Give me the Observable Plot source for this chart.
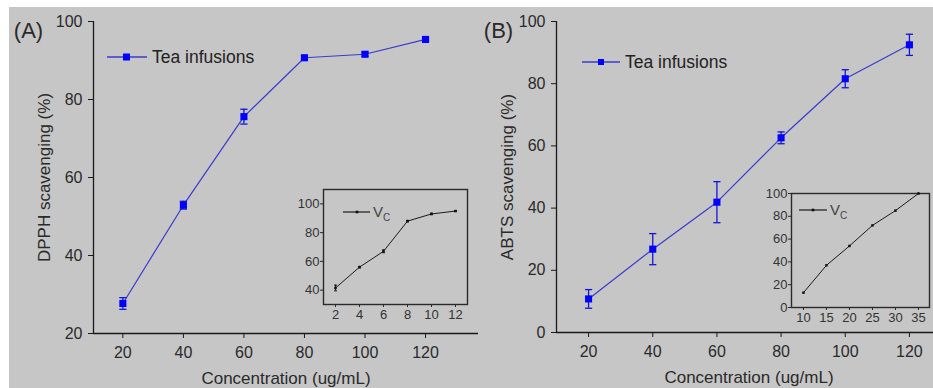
<!DOCTYPE html>
<html>
<head>
<meta charset="utf-8">
<script src="https://cdn.jsdelivr.net/npm/d3@7"></script>
<script src="https://cdn.jsdelivr.net/npm/@observablehq/plot@0.6"></script>
<style>
  html, body { margin: 0; padding: 0; overflow: hidden; background: #fff; }
  #wrap { position: relative; width: 933px; height: 388px; overflow: hidden; background: #fff; }
  #bg { position: absolute; left: 9px; top: 7px; right: 0; bottom: 0; background: #c6c6c6; }
  #wrap svg.plot-abs { position: absolute; max-width: none; }
</style>
</head>
<body>
<div id="wrap"><div id="bg"></div></div>
<script>
// ---------- data ----------
const concentration = [20, 40, 60, 80, 100, 120];
const dpphTea = [27.7, 52.9, 75.6, 90.7, 91.6, 95.4];
const dpphTeaErr = [1.5, 1.0, 1.9, 0.6, 0.5, 0.4];
const abtsTea = [10.8, 26.8, 41.9, 62.6, 81.6, 92.5];
const abtsTeaErr = [3.0, 5.0, 6.6, 1.9, 2.9, 3.4];

const vcDpphConc = [2, 4, 6, 8, 10, 12];
const vcDpph = [41.5, 56, 67, 88, 93, 95];
const vcDpphErr = [2.0, 0.5, 1.0, 0.5, 0.5, 0.3];
const vcAbtsConc = [10, 15, 20, 25, 30, 35];
const vcAbts = [13, 37, 54, 72, 85, 100];

const dpphTicks = [20, 40, 60, 80, 100];
const abtsTicks = [0, 20, 40, 60, 80, 100];
const vcDpphTicks = [40, 60, 80, 100];
const vcAbtsTicks = [0, 20, 40, 60, 80, 100];

const xLabel = "Concentration (ug/mL)";
const seriesName = "Tea infusions";
const vcName = ["V", "C"];

const FONT = "'Liberation Sans', Arial, Helvetica, sans-serif";
const wrap = document.getElementById("wrap");

const capSymbol = {
  draw(ctx, size) {
    const h = Math.sqrt(size / Math.PI);
    ctx.moveTo(-h, 0);
    ctx.lineTo(h, 0);
  }
};

function rowsOf(xs, ys, es) {
  return xs.map((x, i) => ({x, y: ys[i], e: es ? es[i] : 0}));
}

function place(svg, left, top) {
  svg.classList.add("plot-abs");
  svg.style.left = left + "px";
  svg.style.top = top + "px";
  wrap.appendChild(svg);
  return svg;
}

function mainPanel(cfg) {
  const rows = rowsOf(concentration, cfg.values, cfg.errs);
  const svg = Plot.plot({
    width: cfg.width, height: 388,
    marginLeft: cfg.ml, marginRight: cfg.mr, marginTop: 21, marginBottom: cfg.mb,
    x: {domain: cfg.xDom},
    y: {domain: cfg.yDom},
    style: {background: "none", color: "#1e1e1e", fontFamily: FONT, overflow: "visible"},
    marks: [
      Plot.ruleY([cfg.yDom[0]], {stroke: "#1a1a1a", strokeWidth: 1.3}),
      Plot.ruleX([cfg.xDom[0]], {stroke: "#1a1a1a", strokeWidth: 1.3}),
      Plot.axisX({ticks: concentration, tickSize: 5, tickPadding: 8, fontSize: 16, label: null, stroke: "#1a1a1a", fill: "#2a2a2a"}),
      Plot.axisY({ticks: cfg.yTicks, tickSize: 5, tickPadding: 6, fontSize: 16, label: null, stroke: "#1a1a1a", fill: "#2a2a2a"}),
      Plot.text([xLabel], {text: d => d, frameAnchor: "bottom", textAnchor: "middle", lineAnchor: "middle", dy: 45, fontSize: 17, fill: "#2a2a2a"}),
      Plot.text([cfg.yLabel], {text: d => d, frameAnchor: "left", textAnchor: "middle", lineAnchor: "middle", dx: -49, rotate: -90, fontSize: 17, fill: "#2a2a2a"}),
      Plot.text([cfg.tag], {text: d => d, frameAnchor: "top-left", textAnchor: "middle", lineAnchor: "middle", dx: cfg.tagDx, dy: 9, fontSize: 22, fill: "#2a2a2a"}),
      Plot.line(rows, {x: "x", y: "y", stroke: "#3a3ad0", strokeWidth: 1.2}),
      Plot.ruleX(rows, {x: "x", y1: d => d.y - d.e, y2: d => d.y + d.e, stroke: "#1414d8", strokeWidth: 1.3}),
      Plot.dot(rows, {x: "x", y: d => d.y + d.e, symbol: capSymbol, r: 3.6, fill: "none", stroke: "#1414d8", strokeWidth: 1.3}),
      Plot.dot(rows, {x: "x", y: d => d.y - d.e, symbol: capSymbol, r: 3.6, fill: "none", stroke: "#1414d8", strokeWidth: 1.3}),
      Plot.dot(rows, {x: "x", y: "y", symbol: "square", r: 4, fill: "#0000ff", stroke: "none"})
    ]
  });
  place(svg, cfg.left, 0);
  // legend
  const g = d3.select(svg).append("g");
  const L = cfg.legend;
  g.append("line").attr("x1", L.x1).attr("x2", L.x2).attr("y1", L.y).attr("y2", L.y)
    .attr("stroke", "#3a3ad0").attr("stroke-width", 1.3);
  g.append("rect").attr("x", L.mx - L.ms / 2).attr("y", L.y - L.ms / 2).attr("width", L.ms).attr("height", L.ms)
    .attr("fill", "#0000ff");
  g.append("text").attr("x", L.tx).attr("y", L.y).attr("dy", "0.35em").attr("text-anchor", "start")
    .attr("font-family", FONT).attr("font-size", 17.5).attr("fill", "#222").text(seriesName);
  return svg;
}

function insetPanel(cfg) {
  const rows = rowsOf(cfg.xs, cfg.ys, cfg.errs);
  const svg = Plot.plot({
    width: cfg.width, height: cfg.height,
    marginLeft: cfg.ml, marginRight: cfg.mr, marginTop: cfg.mt, marginBottom: cfg.mb,
    x: {domain: cfg.xDom},
    y: {domain: cfg.yDom},
    style: {background: "none", color: "#1e1e1e", fontFamily: FONT, overflow: "visible"},
    marks: [
      Plot.frame({stroke: "#2a2a2a", strokeWidth: 1.4}),
      Plot.axisX({ticks: cfg.xs, tickSize: 3, tickPadding: 2, fontSize: 13, label: null, stroke: "#2a2a2a", fill: "#333"}),
      Plot.axisY({ticks: cfg.yTicks, tickSize: 3, tickPadding: 1, fontSize: 13, label: null, stroke: "#2a2a2a", fill: "#333"}),
      Plot.line(rows, {x: "x", y: "y", stroke: "#1a1a1a", strokeWidth: 1}),
      Plot.ruleX(rows.filter(d => d.e > 0), {x: "x", y1: d => d.y - d.e, y2: d => d.y + d.e, stroke: "#1a1a1a", strokeWidth: 1}),
      Plot.dot(rows.filter(d => d.e > 0), {x: "x", y: d => d.y + d.e, symbol: capSymbol, r: 1.5, fill: "none", stroke: "#1a1a1a", strokeWidth: 1}),
      Plot.dot(rows.filter(d => d.e > 0), {x: "x", y: d => d.y - d.e, symbol: capSymbol, r: 1.5, fill: "none", stroke: "#1a1a1a", strokeWidth: 1}),
      Plot.dot(rows, {x: "x", y: "y", symbol: "square", r: 1.4, fill: "#111", stroke: "none"})
    ]
  });
  place(svg, cfg.left, cfg.top);
  const g = d3.select(svg).append("g");
  const L = cfg.legend;
  g.append("line").attr("x1", L.x1).attr("x2", L.x2).attr("y1", L.y).attr("y2", L.y)
    .attr("stroke", "#1a1a1a").attr("stroke-width", 1.2);
  g.append("rect").attr("x", L.mx - 1.3).attr("y", L.y - 1.3).attr("width", 2.6).attr("height", 2.6).attr("fill", "#111");
  const t = g.append("text").attr("x", L.tx).attr("y", L.y).attr("dy", "0.35em").attr("text-anchor", "start")
    .attr("font-family", FONT).attr("font-size", 15).attr("fill", "#444");
  t.append("tspan").text(vcName[0]);
  t.append("tspan").attr("font-size", 10).attr("dy", "0.35em").text(vcName[1]);
  return svg;
}

mainPanel({
  left: 0, width: 480, ml: 93, mr: 2, mb: 55,
  xDom: [10.3, 137.5], yDom: [20, 100], yTicks: dpphTicks,
  values: dpphTea, errs: dpphTeaErr,
  yLabel: "DPPH scavenging (%)", tag: "(A)", tagDx: -65,
  legend: {x1: 107, x2: 147, y: 57, mx: 126.5, ms: 7, tx: 152}
});

mainPanel({
  left: 470, width: 480, ml: 86, mr: 9, mb: 56,
  xDom: [10, 130], yDom: [0, 100], yTicks: abtsTicks,
  values: abtsTea, errs: abtsTeaErr,
  yLabel: "ABTS scavenging (%)", tag: "(B)", tagDx: -58,
  legend: {x1: 112, x2: 150, y: 62, mx: 131, ms: 6, tx: 155}
});

insetPanel({
  left: 280, top: 170, width: 190, height: 160,
  ml: 43, mr: 3, mt: 19, mb: 26,
  xDom: [1, 13], yDom: [30, 110], yTicks: vcDpphTicks,
  xs: vcDpphConc, ys: vcDpph, errs: vcDpphErr,
  legend: {x1: 63, x2: 90, y: 42, mx: 77, tx: 93}
});

insetPanel({
  left: 745, top: 175, width: 190, height: 160,
  ml: 46, mr: 6, mt: 18, mb: 28,
  xDom: [7.4, 37.4], yDom: [0, 100], yTicks: vcAbtsTicks,
  xs: vcAbtsConc, ys: vcAbts, errs: null,
  legend: {x1: 54, x2: 82, y: 35, mx: 68, tx: 85}
});
</script>
</body>
</html>
